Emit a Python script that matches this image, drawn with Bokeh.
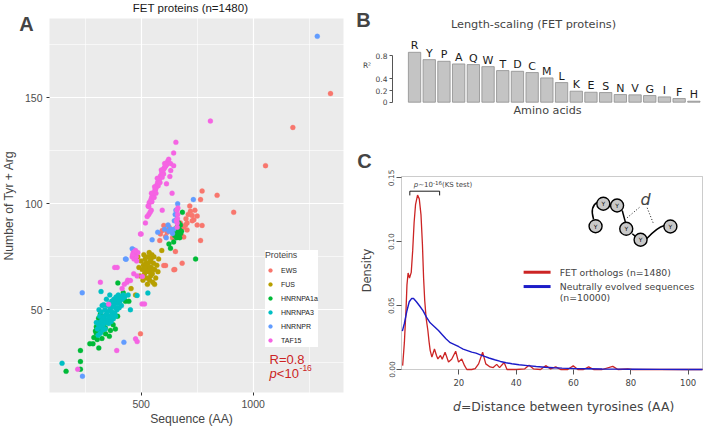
import math
from bokeh.plotting import figure
from bokeh.models import Range1d, FixedTicker, Label, Legend, LegendItem, BoxAnnotation
from bokeh.layouts import row, column
from bokeh.embed import file_html
from bokeh.resources import INLINE
from bokeh.core.properties import value

# ---------------- Panel A data: (sequence length, number of Tyr + Arg) ----------------
proteins = ["EWS", "FUS", "HNRNPA1a", "HNRNPA3", "HNRNPR", "TAF15"]
protein_colors = ["#F8766D", "#B79F00", "#00BA38", "#00BFC4", "#619CFF", "#F564E3"]

ews = [(1345,152),(1177,136),(1055,118),(913,96),(839,104),(772,106),(765,102),(717,99),(720,96.5),
       (728,94.5),(750,94.2),(728,92),(705,91),(750,90),(772,89.8),(698,90),(690,89),(705,87.7),
       (690,84.3),(601,89.8),(594,87.4),(586,85.8),(609,84.6),(583,82.7),(653,77.5),(683,72),(650,69),
       (601,70.9),(765,82.7),(646,68.9),(609,70.9),(356,52.4),(497,38.7),(616,86.6),(740,97),(735,92.5),
       (710,95),(660,86),(640,84),(625,89),(675,91),(700,93),(670,88),(680,85),(665,91)]
fus = [(527,70),(520,72),(535,68),(540,73),(515,67),(530,75),(545,70),(510,71),(525,65),(550,67),
       (555,72),(505,69),(538,64),(548,76),(518,74),(532,72),(522,68),(542,66),(560,69),(500,73),
       (512,76),(528,62),(565,65),(570,71),(495,66),(536,77),(552,63),(508,64),(544,74),(530,69),
       (521,71),(539,70),(548,69),(516,70),(557,75),(575,68),(490,70),(485,75),(475,57),(455,60),
       (592,78),(560,62),(578,74)]
hnrnpa1a = [(165,21),(229,25.6),(229,30.8),(229,22),(271,34),(311,32),(289,37),(296,40),(304,36),
            (318,39.5),(341,38.7),(363,40.3),(385,41),(300,42),(330,43),(350,44),(320,45),(370,46),
            (310,46),(395,47),(340,41.5),(358,37.5),(315,41),(285,34),(300,39),(325,36.5),(375,43),
            (318,48),(396,62.7),(396,55.2),(430,54),(445,54),(420,58),
            (650,85),(655,87),(660,89),(665,86),(670,88),(675,90),(680,87),(684,96),(668,91),(658,84),
            (672,84),(631,79),(624,81),(743,74),(645,82),(662,91.5),(676,86)]
hnrnpa3 = [(305,41),(310,43),(315,44),(320,42),(325,45),(330,46),(335,47),(340,45),(345,48),(350,49),
           (355,47),(360,50),(365,51),(370,49),(375,52),(380,53),(385,51),(390,54),(395,53),(400,55),
           (405,54),(410,56),(415,55),(420,57),(425,56),(315,47),(322,49),(338,50),(348,52),(358,53),
           (368,54),(378,55),(388,56),(398,57),(330,43),(342,44),(352,45.5),(362,46.5),(372,47.5),
           (382,48.5),(392,50),(402,51),(412,52),(318,39),(328,40.5),(308,38),(300,44),(312,50),
           (326,52),(345,55),(360,57),(340,41),(355,43.5),(366,44.5),(376,45.8),(386,47),(147,24.8),
           (321,58.6),(530,57.9),(452,50),(408,56),(333,52.4),(426,56),(482,56.8),(442,57)]
hnrnpr = [(1286,179),(733,102),(663,100),(574,86.6),(549,83),(460,78.8),(430,74),(467,78.3),
          (433,73.9),(237,58),(238,18.7),(423,34.7),(648,92),(652,95),(645,88),(655,97),(640,86),
          (630,88),(620,90),(660,93),(612,84),(605,88),(624,87)]
taf15 = [(531,99),(536,100.5),(540,101),(544,102),(547,103),(550,103.5),(553,104),(556,105),
         (559,105.5),(562,106.5),(565,107),(568,108),(571,109),(574,110),(577,110.5),(580,111.5),
         (583,112),(586,113),(589,113.5),(592,114.5),(595,115),(598,116),(601,116.5),(604,117),
         (607,117.5),(610,118),(614,118.5),(618,120),(623,121),(548,101),(558,103),(566,105),
         (576,108.5),(584,110),(594,112.5),(600,114),(546,105),(560,108),(572,112),(590,116),(605,119),
         (655,129),(645,124),(631,119),(645,118),(632,115.7),(628,112.9),(638,105),(613,109.4),
         (809,139),(594,97),(534,98.7),(527,94),(534,95),(540,96),(545,97),(519,91),(497,85.8),
         (500,85.7),(661,89),(661,91),(662,93),(663,95),(660,97),(664,98),(658,92),(460,75),(465,77),
         (470,76),(475,78),(468,74),(478,75),(485,77),(472,77.5),(462,76),(480,73),(382,70),(393,70),
         (318,63),(415,60),(425,62),(440,64),(437,63),(452,63.8),(467,67),(482,66),(505,65.7),
         (504,52.8),(515,52.8),(355,52.6),(391,30.8),(475,36.3),(482,35),(217,22)]
groups = [ews, fus, hnrnpa1a, hnrnpa3, hnrnpr, taf15]

x_lim_A = (91, 1403)
y_lim_A = (11, 187.4)
x_ticks_A = [500, 1000]
x_minor_A = [250, 750, 1250]
y_ticks_A = [50, 100, 150]
y_minor_A = [25, 75, 125, 175]

# ---------------- Panel B data ----------------
amino_acids = ["R","Y","P","A","Q","W","T","D","C","M","L","K","E","S","N","V","G","I","F","H"]
r2_values = [0.857,0.731,0.703,0.657,0.646,0.611,0.543,0.531,0.509,0.417,0.337,0.189,0.171,0.166,
             0.131,0.126,0.114,0.091,0.063,0.017]
r2_ticks = [0, 0.2, 0.4, 0.8]

# ---------------- Panel C data: density of distances ----------------
fet_density = [(0.4,0.003),(1.0,0.021),(1.6,0.048),(1.9,0.066),(2.3,0.0755),(2.8,0.0716),(3.4,0.076),
               (3.9,0.093),(4.4,0.115),(4.9,0.129),(5.6,0.1365),(6.2,0.1335),(6.8,0.121),(7.3,0.098),
               (7.7,0.072),(8.1,0.054),(8.6,0.040),(9.2,0.0305),(9.6,0.022),(10.0,0.015),(10.6,0.0097),
               (11.5,0.016),(12.2,0.011),(12.7,0.0083),(13.6,0.011),(14.2,0.008),(15.2,0.0135),
               (16.4,0.0058),(17.5,0.008),(18.9,0.0143),(19.9,0.0058),(21.0,0.0083),(22.0,0.003),
               (22.8,0.0),(24.5,0.0),(25.7,0.0006),(26.9,0.0044),(28.3,0.0135),(29.4,0.0044),
               (30.9,0.002),(32.0,0.0015),(33.2,0.004),(34.2,0.0015),(35.8,0.0055),(36.8,0.0),
               (40.0,0.0),(43.0,0.0005),(44.5,0.0034),(46.0,0.0005),(48.5,0.0),(50.3,0.003),
               (52.0,0.0005),(53.8,0.002),(55.5,0.0),(58.0,0.0),(59.9,0.003),(61.5,0.0),(63.5,0.0),
               (65.3,0.002),(67.0,0.0),(70.0,0.0),(73.7,0.0024),(75.5,0.0),(78.9,0.0004),(80.5,0.0),
               (85.0,0.0),(90.0,0.0),(95.0,0.0),(100.0,0.0),(105.0,0.0)]
neutral_density = [(0.3,0.030),(1.0,0.036),(1.9,0.046),(2.7,0.053),(3.5,0.0555),(4.2,0.0555),
                   (5.2,0.053),(6.4,0.0495),(7.5,0.046),(8.7,0.041),(10.0,0.0365),(11.5,0.0335),
                   (12.9,0.0305),(14.3,0.027),(15.5,0.024),(17.0,0.021),(18.5,0.0195),(20.0,0.0178),
                   (21.5,0.016),(23.0,0.0148),(24.5,0.0136),(26.0,0.0128),(27.5,0.0115),(29.0,0.0102),
                   (30.5,0.009),(32.5,0.0076),(34.5,0.0063),(36.5,0.0053),(38.5,0.0045),(41.0,0.0037),
                   (44.0,0.003),(47.0,0.0023),(50.0,0.0018),(53.0,0.0014),(56.0,0.0011),(60.0,0.0008),
                   (65.0,0.0006),(70.0,0.0004),(75.0,0.0003),(80.0,0.0002),(90.0,0.0001),(100.0,0.0),
                   (105.0,0.0)]
x_lim_C = (0, 105)
y_lim_C = (0, 0.151)
x_ticks_C = [20, 40, 60, 80, 100]
y_ticks_C = [0, 0.05, 0.10, 0.15]
legend_C_labels = ["FET orthologs (n=1480)", "Neutrally evolved sequences"]

# schematic chain of tyrosines (drawn in panel C data space)
chain_x = [67.7, 70.4, 75.2, 78.4, 83.4, 93.8]
chain_y = [0.1121, 0.1297, 0.1283, 0.1101, 0.1015, 0.1119]

RED = "#CC2424"
BLUE = "#1C1CC8"
SANS_A = "Liberation Sans"
SANS_C = "DejaVu Sans"


class Geom:
    """Maps figure pixel positions (origin top-left) to data space; frame == whole canvas."""
    def __init__(self, w, h, xlim, ylim, px_left, px_right, px_top, px_bottom):
        self.sx = (px_right - px_left) / (xlim[1] - xlim[0])
        self.sy = (px_bottom - px_top) / (ylim[1] - ylim[0])
        self.x0 = xlim[0] - px_left / self.sx
        self.x1 = self.x0 + w / self.sx
        self.y1 = ylim[1] + px_top / self.sy
        self.y0 = self.y1 - h / self.sy

    def xy(self, px, py):
        return self.x0 + px / self.sx, self.y1 - py / self.sy


def make_fig(w, h, g):
    p = figure(width=w, height=h, x_range=Range1d(g.x0, g.x1), y_range=Range1d(g.y0, g.y1),
               output_backend="svg", toolbar_location=None, title_location=None,
               min_border=0, min_border_left=0, min_border_right=0,
               min_border_top=0, min_border_bottom=0)
    p.outline_line_color = None
    p.background_fill_color = "white"
    p.border_fill_color = "white"
    return p


def put(p, g, px, py, text, **kw):
    x, y = g.xy(px, py)
    p.add_layout(Label(x=x, y=y, text=text, **kw))


# ======================= Panel A =======================
WA, HA = 354, 429
gA = Geom(WA, HA, x_lim_A, y_lim_A, 49, 343, 18, 392)
pA = make_fig(WA, HA, gA)
pA.add_layout(BoxAnnotation(left=x_lim_A[0], right=x_lim_A[1], bottom=y_lim_A[0], top=y_lim_A[1],
                            fill_color="#EBEBEB", fill_alpha=1.0, line_color=None, level="image"))
pA.xaxis.ticker = FixedTicker(ticks=x_ticks_A, minor_ticks=x_minor_A)
pA.yaxis.ticker = FixedTicker(ticks=y_ticks_A, minor_ticks=y_minor_A)
pA.xaxis.fixed_location = y_lim_A[0]
pA.yaxis.fixed_location = x_lim_A[0]
for gr in (pA.xgrid, pA.ygrid):
    gr.grid_line_color = "white"
    gr.grid_line_width = 1.2
    gr.minor_grid_line_color = "white"
    gr.minor_grid_line_width = 0.6
for ax in (pA.xaxis, pA.yaxis):
    ax.axis_line_color = None
    ax.major_tick_line_color = "#333333"
    ax.major_tick_out = 3
    ax.major_tick_in = 0
    ax.minor_tick_line_color = None
    ax.major_label_text_font = SANS_A
    ax.major_label_text_font_size = "10.5px"
    ax.major_label_text_color = "#4D4D4D"
    ax.major_label_standoff = 3

items = []
for name, col, pts in zip(proteins, protein_colors, groups):
    xs = [q[0] for q in pts]
    ys = [q[1] for q in pts]
    r = pA.scatter(xs, ys, size=5, fill_color=col, line_color=col, line_width=0.3)
    items.append(LegendItem(label=name, renderers=[r]))
legA = Legend(items=items, location=(265, 82), title="Proteins",
              title_text_font=SANS_A, title_text_font_size="8.8px", title_text_font_style="normal",
              title_standoff=3,
              label_text_font=SANS_A, label_text_font_size="7px", label_text_color="#1a1a1a",
              glyph_width=10, glyph_height=14, label_height=14, label_standoff=6,
              spacing=0, padding=6, margin=0, border_line_color=None,
              background_fill_color="white", background_fill_alpha=1.0)
pA.add_layout(legA)

put(pA, gA, 26, 23, "A", text_font=SANS_A, text_font_size="20px", text_font_style="bold",
    text_align="center", text_baseline="middle")
put(pA, gA, 190, 7, "FET proteins (n=1480)", text_font=SANS_A, text_font_size="11.5px",
    text_align="center", text_baseline="middle", text_color="#1a1a1a")
put(pA, gA, 191, 418, "Sequence (AA)", text_font=SANS_A, text_font_size="12.2px",
    text_align="center", text_baseline="middle")
put(pA, gA, 8, 205, "Number of Tyr + Arg", text_font=SANS_A, text_font_size="12.2px",
    text_align="center", text_baseline="middle", angle=math.pi / 2)
pA.add_layout(Label(x=1073, y=26.6, text="R=0.8", text_font=SANS_A, text_font_size="13px",
                    text_color=RED, text_align="left", text_baseline="middle"))
pA.add_layout(Label(x=1073, y=20, text="p", text_font=SANS_A, text_font_size="13px",
                    text_font_style="italic", text_color=RED, text_align="left", text_baseline="middle"))
pA.add_layout(Label(x=1073, y=20, x_offset=7.3, text="<10", text_font=SANS_A, text_font_size="13px",
                    text_color=RED, text_align="left", text_baseline="middle"))
pA.add_layout(Label(x=1073, y=20, x_offset=30.0, y_offset=5, text="-16", text_font=SANS_A,
                    text_font_size="8.5px", text_color=RED, text_align="left", text_baseline="middle"))

# ======================= Panel B =======================
WB, HB = 349, 123
n_aa = len(amino_acids)
SLOT = 14.70
gB = Geom(WB, HB, (-1.0, n_aa + 0.08), (0, 0.8), 38, 38 + (n_aa + 1.08) * SLOT,
          101.7 - 0.8 * 58.2, 101.7)
pB = make_fig(WB, HB, gB)
pB.xgrid.visible = False
pB.ygrid.visible = False
pB.xaxis.visible = False
slots = [i + 0.5 for i in range(n_aa)]
pB.vbar(x=slots, top=r2_values, bottom=0, width=0.84, fill_color="#C4C4C4",
        line_color="#8E8E8E", line_width=0.8)
pB.text(x=slots, y=r2_values, text=amino_acids, text_align="center", text_baseline="bottom",
        text_font=value(SANS_C), text_font_size="11px", text_color="#1a1a1a")
yb = pB.yaxis[0]
yb.fixed_location = -1.0
yb.ticker = FixedTicker(ticks=r2_ticks)
yb.bounds = (0, 0.8)
yb.major_label_overrides = {0: "0", 0.2: "0.2", 0.4: "0.4", 0.8: "0.8"}
yb.axis_line_color = "#555555"
yb.major_tick_line_color = "#555555"
yb.major_tick_out = 3
yb.major_tick_in = 0
yb.minor_tick_line_color = None
yb.major_label_text_font = SANS_C
yb.major_label_text_font_size = "7.5px"
yb.major_label_standoff = 2
put(pB, gB, 9, 19, "B", text_font=SANS_A, text_font_size="20px", text_font_style="bold",
    text_align="center", text_baseline="middle")
put(pB, gB, 179, 24, "Length-scaling (FET proteins)", text_font=SANS_C, text_font_size="11.3px",
    text_align="center", text_baseline="middle")
put(pB, gB, 12.5, 65, "R²", text_font=SANS_C, text_font_size="7.5px",
    text_align="center", text_baseline="middle")
put(pB, gB, 193, 110, "Amino acids", text_font=SANS_C, text_font_size="11.2px",
    text_align="center", text_baseline="middle")

# ======================= Panel C =======================
WC, HC = 349, 306
gC = Geom(WC, HC, x_lim_C, y_lim_C, 47, 348, 53, 246)
pC = make_fig(WC, HC, gC)
pC.xgrid.visible = False
pC.ygrid.visible = False
pC.add_layout(BoxAnnotation(left=x_lim_C[0], right=x_lim_C[1], bottom=y_lim_C[0], top=y_lim_C[1],
                            fill_alpha=0.0, line_color="#555555", line_width=1, level="underlay"))
xc = pC.xaxis[0]
ycax = pC.yaxis[0]
xc.fixed_location = y_lim_C[0]
ycax.fixed_location = x_lim_C[0]
xc.ticker = FixedTicker(ticks=x_ticks_C)
ycax.ticker = FixedTicker(ticks=y_ticks_C)
ycax.major_label_overrides = {0: "0.00", 0.05: "0.05", 0.1: "0.10", 0.15: "0.15"}
ycax.major_label_orientation = "vertical"
for ax in (xc, ycax):
    ax.axis_line_color = None
    ax.major_tick_line_color = "#555555"
    ax.major_tick_out = 5
    ax.major_tick_in = 0
    ax.minor_tick_line_color = None
    ax.major_label_text_font = SANS_C
ycax.major_label_text_font_size = "7.5px"
xc.major_label_text_font_size = "8.5px"
xc.major_label_standoff = 4
ycax.major_label_standoff = 2

fx = [q[0] for q in fet_density]
fy = [q[1] for q in fet_density]
nx = [q[0] for q in neutral_density]
ny = [q[1] for q in neutral_density]
pC.line(fx, fy, line_color=RED, line_width=1.3)
pC.line(nx, ny, line_color=BLUE, line_width=1.4)

# legend (drawn manually)
pC.segment(x0=[42.6, 42.6], x1=[52.0, 52.0], y0=[0.0761, 0.0649], y1=[0.0761, 0.0649],
           line_color=[RED, BLUE], line_width=3)
pC.add_layout(Label(x=55.2, y=0.0761, text=legend_C_labels[0], text_font=SANS_C,
                    text_font_size="9.3px", text_align="left", text_baseline="middle"))
pC.add_layout(Label(x=55.2, y=0.0649, text=legend_C_labels[1], text_font=SANS_C,
                    text_font_size="9.3px", text_align="left", text_baseline="middle"))
pC.add_layout(Label(x=55.2, y=0.0566, text="(n=10000)", text_font=SANS_C,
                    text_font_size="9.3px", text_align="left", text_baseline="middle"))

# KS bracket
pC.segment(x0=[2.9, 2.9, 13.3], x1=[13.3, 2.9, 13.3], y0=[0.1395, 0.1395, 0.1395],
           y1=[0.1395, 0.1362, 0.1362], line_color="black", line_width=0.9)
ks_y = 0.1442
pC.add_layout(Label(x=4.3, y=ks_y, text="p", text_font=SANS_C, text_font_size="7px",
                    text_font_style="italic", text_align="left", text_baseline="middle"))
pC.add_layout(Label(x=4.3, y=ks_y, x_offset=4.4, text="~10", text_font=SANS_C, text_font_size="7px",
                    text_align="left", text_baseline="middle"))
pC.add_layout(Label(x=4.3, y=ks_y, x_offset=19.2, y_offset=3, text="-16", text_font=SANS_C,
                    text_font_size="5.5px", text_align="left", text_baseline="middle"))
pC.add_layout(Label(x=4.3, y=ks_y, x_offset=28.2, text=" (KS test)", text_font=SANS_C,
                    text_font_size="7px", text_align="left", text_baseline="middle"))

# schematic
pC.quadratic(x0=[67.0, 85.5], y0=[0.1175, 0.1023], x1=[68.4, 91.7], y1=[0.1309, 0.1127],
             cx=[65.6, 89.2], cy=[0.1275, 0.1113], line_color="black", line_width=1.5)
pC.segment(x0=[77.0, 80.5], y0=[0.1244, 0.1062], x1=[78.1, 81.6], y1=[0.1153, 0.1041],
           line_color="black", line_width=1.5)
pC.segment(x0=[78.7, 85.7], y0=[0.1187, 0.1265], x1=[83.1, 88.0], y1=[0.1270, 0.1135],
           line_color="black", line_width=0.9, line_dash="1 2")
pC.scatter(chain_x, chain_y, size=13, fill_color="#C8C8C8", line_color="black", line_width=1.4)
pC.text(x=chain_x, y=chain_y, text=["Y"] * len(chain_x), text_align="center",
        text_baseline="middle", text_font=value(SANS_C), text_font_size="6px")
pC.add_layout(Label(x=85.1, y=0.1330, text="d", text_font=SANS_C, text_font_size="16px",
                    text_font_style="italic", text_align="center", text_baseline="middle"))

put(pC, gC, 10, 37, "C", text_font=SANS_A, text_font_size="20px", text_font_style="bold",
    text_align="center", text_baseline="middle")
put(pC, gC, 12, 147, "Density", text_font=SANS_C, text_font_size="11.5px",
    text_align="center", text_baseline="middle", angle=math.pi / 2)
put(pC, gC, 98.5, 283, "d", text_font=SANS_C, text_font_size="12.4px", text_font_style="italic",
    text_align="left", text_baseline="middle")
put(pC, gC, 106.4, 283, "=Distance between tyrosines (AA)", text_font=SANS_C,
    text_font_size="12.4px", text_align="left", text_baseline="middle")

layout = row(pA, column(pB, pC))
open("out.html", "w").write(file_html(layout, INLINE))
